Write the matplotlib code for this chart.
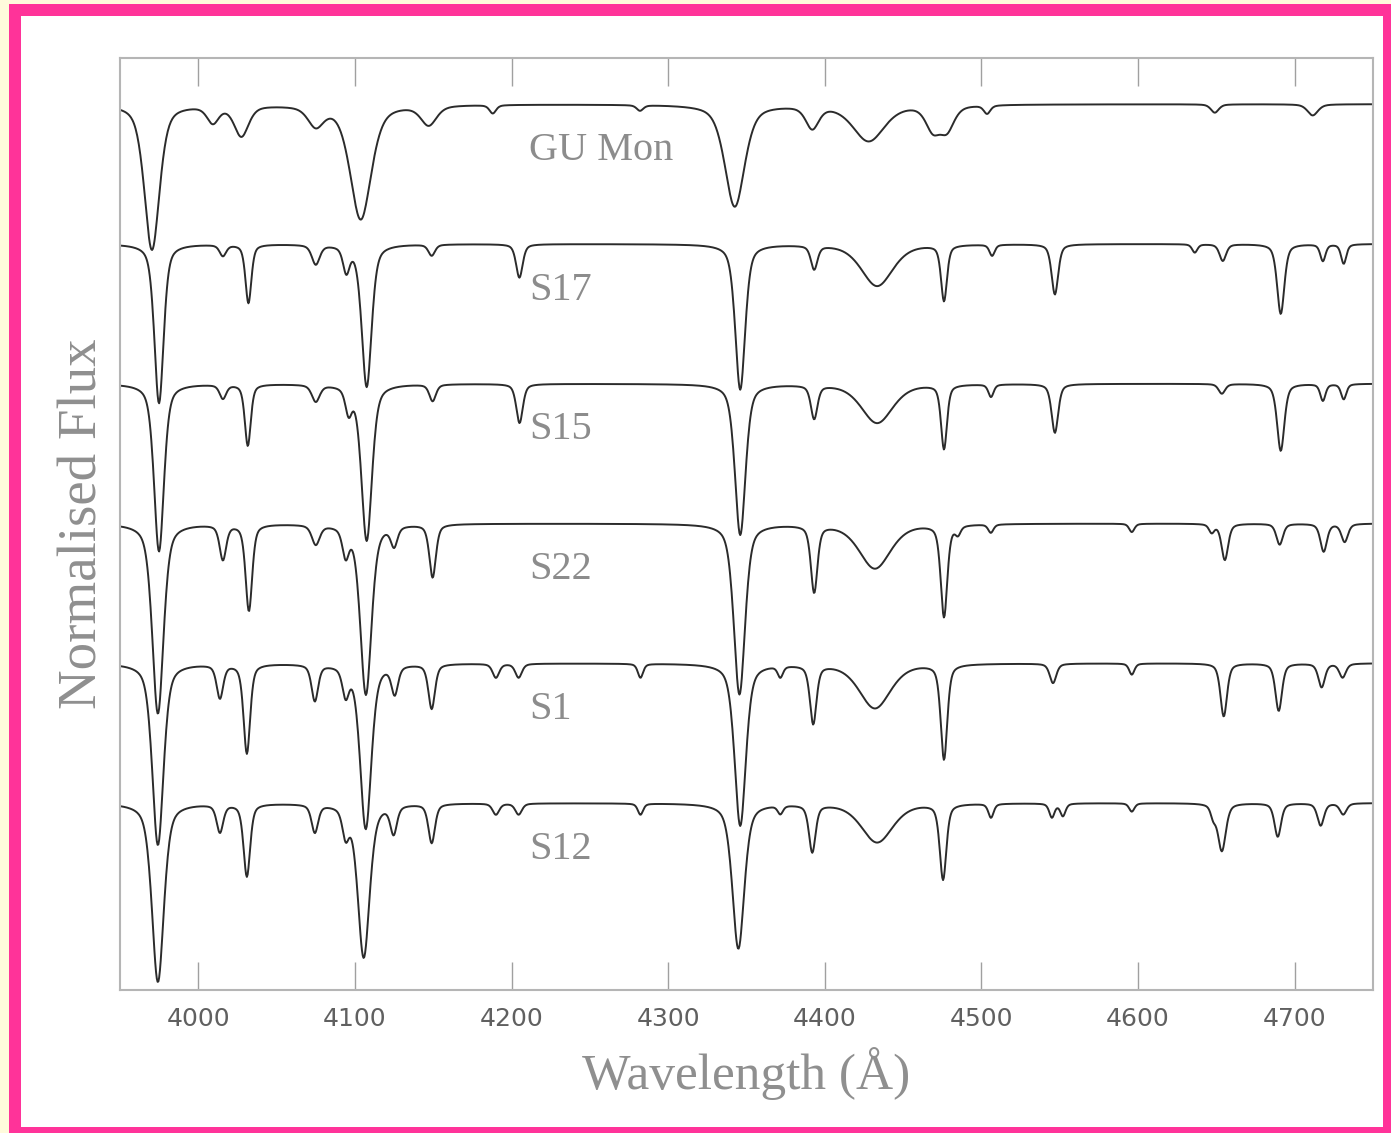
import numpy as np
import matplotlib.pyplot as plt
from matplotlib.patches import Rectangle

# ================================
# 1. DATA
# ================================
STARS = ["GU Mon", "S17", "S15", "S22", "S1", "S12"]
OFFSETS = [2.5, 2.0, 1.5, 1.0, 0.5, 0.0]

# absorption lines for each star: centre (A), central depth, FWHM (A)
gumon_centre = [3970.4, 4009.3, 4027.5, 4075.0, 4103.7, 4147.1, 4188.0, 4282.0,
                4342.5, 4392.0, 4428.0, 4469.0, 4478.0, 4503.6, 4649.0, 4711.5]
gumon_depth = [0.52, 0.06, 0.11, 0.07, 0.41, 0.07, 0.03, 0.02,
               0.365, 0.08, 0.13, 0.085, 0.085, 0.03, 0.03, 0.04]
gumon_fwhm = [11.5, 9, 11, 12, 16, 12, 5, 5,
              15, 10, 24, 11, 11, 5, 6, 8]

s17_centre = [3974.9, 4015.7, 4032.0, 4075.0, 4094.5, 4107.5, 4149.0, 4205.0,
              4346.0, 4393.2, 4433.4, 4476.1, 4506.8, 4546.9, 4636.2, 4654.1,
              4691.1, 4718.0, 4731.3]
s17_depth = [0.57, 0.04, 0.21, 0.07, 0.09, 0.51, 0.04, 0.12,
             0.52, 0.085, 0.15, 0.20, 0.04, 0.18, 0.03, 0.06,
             0.25, 0.06, 0.07]
s17_fwhm = [7, 5, 4.5, 6, 5, 7.5, 5, 5,
            7.5, 5, 24, 4.5, 4, 5, 4, 5,
            5.5, 4, 4]

s15_centre = [3974.9, 4015.7, 4031.6, 4075.0, 4096.0, 4107.5, 4149.6, 4205.1,
              4346.0, 4393.2, 4433.4, 4476.1, 4506.1, 4546.9, 4653.5, 4691.1,
              4718.0, 4731.3]
s15_depth = [0.60, 0.05, 0.22, 0.06, 0.09, 0.56, 0.06, 0.14,
             0.54, 0.12, 0.14, 0.23, 0.045, 0.175, 0.035, 0.24,
             0.06, 0.055]
s15_fwhm = [7.5, 5, 4.5, 6, 5, 8, 5, 5,
            8, 5, 24, 4.5, 4, 5, 5, 5.5,
            4, 4]

s22_centre = [3974.2, 4015.7, 4032.3, 4075.0, 4094.1, 4107.0, 4125.0, 4149.6,
              4345.5, 4393.2, 4432.0, 4476.1, 4485.0, 4506.0, 4596.0, 4647.0,
              4655.4, 4690.4, 4718.5, 4731.9]
s22_depth = [0.68, 0.125, 0.31, 0.07, 0.10, 0.61, 0.07, 0.19,
             0.61, 0.24, 0.16, 0.33, 0.03, 0.03, 0.03, 0.03,
             0.13, 0.075, 0.10, 0.065]
s22_fwhm = [8.5, 5, 5, 6, 5, 8.5, 5, 5,
            8.5, 5, 24, 5, 4, 4, 4, 4,
            5, 5, 5, 5]

s1_centre = [3974.2, 4013.8, 4031.0, 4074.4, 4094.1, 4106.9, 4125.4, 4149.0,
             4190.0, 4204.5, 4282.3, 4346.0, 4371.6, 4392.6, 4432.0, 4476.1,
             4545.7, 4596.0, 4654.7, 4689.8, 4717.2, 4730.6]
s1_depth = [0.65, 0.12, 0.32, 0.13, 0.10, 0.59, 0.10, 0.16,
            0.05, 0.05, 0.05, 0.58, 0.04, 0.21, 0.16, 0.34,
            0.07, 0.04, 0.19, 0.17, 0.085, 0.05]
s1_fwhm = [8.5, 5, 5, 5, 5, 8.5, 5, 5,
           5, 5, 4, 8.5, 4, 5, 24, 5,
           5, 4, 5, 5, 5, 5]

s12_centre = [3974.2, 4013.8, 4031.0, 4074.4, 4094.1, 4105.6, 4124.7, 4149.0,
              4190.0, 4204.5, 4282.3, 4344.8, 4371.6, 4392.0, 4433.4, 4475.5,
              4506.1, 4545.0, 4552.0, 4596.0, 4648.0, 4653.5, 4689.2, 4716.6,
              4731.0]
s12_depth = [0.64, 0.10, 0.26, 0.10, 0.10, 0.55, 0.10, 0.14,
             0.04, 0.04, 0.04, 0.52, 0.03, 0.17, 0.14, 0.27,
             0.05, 0.05, 0.045, 0.03, 0.04, 0.17, 0.12, 0.08,
             0.04]
s12_fwhm = [9, 5, 5, 5, 5, 9, 5, 5,
            5, 5, 4, 9, 4, 5, 24, 5,
            4, 4, 4, 4, 4, 6, 5, 5,
            5]

LINES = [
    (gumon_centre, gumon_depth, gumon_fwhm),
    (s17_centre, s17_depth, s17_fwhm),
    (s15_centre, s15_depth, s15_fwhm),
    (s22_centre, s22_depth, s22_fwhm),
    (s1_centre, s1_depth, s1_fwhm),
    (s12_centre, s12_depth, s12_fwhm),
]

wave = np.arange(3950, 4750.5, 0.5)


def spectrum(centre, depth, fwhm):
    # normalised continuum minus pseudo-Voigt absorption lines
    flux = np.ones_like(wave)
    for c, d, w in zip(centre, depth, fwhm):
        u = (wave - c) / w
        gauss = np.exp(-4 * np.log(2) * u ** 2)
        lorentz = 1 / (1 + 4 * u ** 2)
        flux -= d * (0.5 * gauss + 0.5 * lorentz)
    return flux


# ================================
# 2. FIGURE + FRAME
# ================================
W, H = 1391, 1133
fig = plt.figure(figsize=(W / 100, H / 100), dpi=100)
fig.patch.set_facecolor("#fffbdc")

fig.patches.append(Rectangle((9 / W, 0), 1 - 9 / W, 1 - 4 / H,
                             transform=fig.transFigure, facecolor="#ff3399",
                             edgecolor="none", zorder=-2))
fig.patches.append(Rectangle((21 / W, 6 / H), (1383 - 21) / W, (1117 - 6) / H,
                             transform=fig.transFigure, facecolor="white",
                             edgecolor="none", zorder=-1))

ax = fig.add_axes([120 / W, 1 - 990 / H, 1253 / W, 932 / H])

# ================================
# 3. SPECTRA
# ================================
for name, off, (c, d, w) in zip(STARS, OFFSETS, LINES):
    ax.plot(wave, spectrum(c, d, w) + off, color="#2b2b2b", lw=1.4)
    ax.text(4211, 1 + off - 0.165, name, family="Liberation Serif",
            fontsize=29, color="#8c8c8c", ha="left", va="center")

# ================================
# 4. AXES STYLE
# ================================
ax.set_xlim(3950, 4750)
ax.set_ylim(0.331, 3.665)
ax.set_xticks(range(4000, 4701, 100))
ax.tick_params(axis="x", direction="in", length=20, width=1, color="#a0a0a0",
               top=True, labelsize=18, labelcolor="#606060", pad=12)
ax.tick_params(axis="y", left=False, labelleft=False)
for sp in ax.spines.values():
    sp.set_color("#b5b5b5")
    sp.set_linewidth(1.5)

ax.set_xlabel("Wavelength (Å)", family="Liberation Serif", fontsize=37,
              color="#8f8f8f", labelpad=12)
ax.set_ylabel("Normalised Flux", family="Liberation Serif", fontsize=39.5,
              color="#8f8f8f", labelpad=8)

fig.savefig("out.png", dpi=100, facecolor=fig.get_facecolor())
